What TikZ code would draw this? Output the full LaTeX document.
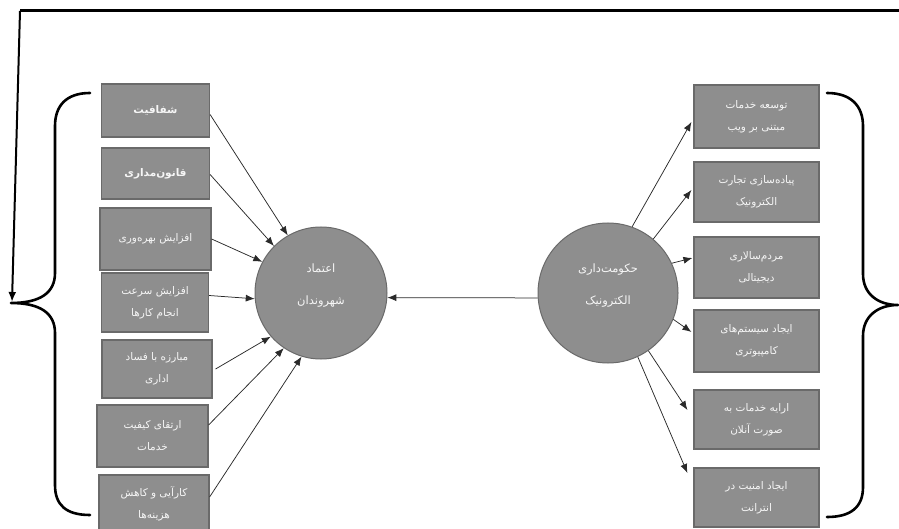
\documentclass[tikz,border=0pt]{standalone}
\usepackage{fontspec}
\TeXXeTstate=1
\newfontfamily\arabicfont[Script=Arabic]{DejaVu Sans}
\usetikzlibrary{arrows.meta,calc}
\definecolor{boxfill}{HTML}{8E8E8E}
\definecolor{boxline}{HTML}{6A6A6A}
\definecolor{boxtext}{HTML}{F6F6F6}
\definecolor{arrowcol}{HTML}{2A2A2A}
\newcommand{\pfa}[1]{\beginR #1\endR}
\begin{document}
\begin{tikzpicture}[x=1pt,y=-1pt,
 factor/.style={draw=boxline, line width=1.2pt, fill=boxfill, text=boxtext, inner sep=0pt, align=center, font=\arabicfont\fontsize{10.5}{22}\selectfont},
 hub/.style={circle, draw=boxline, line width=1pt, fill=boxfill, inner sep=0pt},
 hubtext/.style={text=boxtext, align=center, yshift=7pt, font=\arabicfont\fontsize{11.5}{32}\selectfont},
 link/.style={draw=arrowcol, line width=0.75pt, -{Latex[length=9pt,width=7pt]}},
 brace/.style={draw=black, line width=2.6pt, line cap=round, line join=round},
]
\useasboundingbox (0,0) rectangle (899,529);

% left factor boxes
\node[factor, minimum width=108pt, minimum height=53pt] (L1) at (155.5,110.5) {\bfseries\pfa{شفافیت}};
\node[factor, minimum width=108pt, minimum height=51pt] (L2) at (155.5,173.5) {\bfseries\pfa{قانون‌مداری}};
\node[factor, minimum width=111pt, minimum height=62pt] (L3) at (155.5,239) {\pfa{افزایش بهره‌وری}};
\node[factor, minimum width=107pt, minimum height=59pt] (L4) at (155,302.5) {\pfa{افزایش سرعت}\\\pfa{انجام کارها}};
\node[factor, minimum width=110pt, minimum height=58pt] (L5) at (157,369) {\pfa{مبارزه با فساد}\\\pfa{اداری}};
\node[factor, minimum width=111pt, minimum height=62pt] (L6) at (152.5,436) {\pfa{ارتقای کیفیت}\\\pfa{خدمات}};
\node[factor, minimum width=110pt, minimum height=58pt] (L7) at (154,504) {\pfa{کارآیی و کاهش}\\\pfa{هزینه‌ها}};

% right factor boxes
\node[factor, minimum width=125pt, minimum height=63pt] (R1) at (756.5,116.5) {\pfa{توسعه خدمات}\\\pfa{مبتنی بر ویب}};
\node[factor, minimum width=125pt, minimum height=60pt] (R2) at (756.5,192) {\pfa{پیاده‌سازی تجارت}\\\pfa{الکترونیک}};
\node[factor, minimum width=125pt, minimum height=61pt] (R3) at (756.5,267.5) {\pfa{مردم‌سالاری}\\\pfa{دیجیتالی}};
\node[factor, minimum width=125pt, minimum height=62pt] (R4) at (756.5,341) {\pfa{ایجاد سیستم‌های}\\\pfa{کامپیوتری}};
\node[factor, minimum width=125pt, minimum height=59pt] (R5) at (756.5,419.5) {\pfa{ارایه خدمات به}\\\pfa{صورت آنلان}};
\node[factor, minimum width=125pt, minimum height=59pt] (R6) at (756.5,497.5) {\pfa{ایجاد امنیت در}\\\pfa{انترانت}};

% hubs
\node[hub, minimum size=132pt, label={[hubtext]center:{\pfa{اعتماد}\\\pfa{شهروندان}}}] (lc) at (321,293) {};
\node[hub, minimum size=140pt, label={[hubtext]center:{\pfa{حکومت‌داری}\\\pfa{الکترونیک}}}] (rc) at (608,293) {};

% arrows into the left hub
\draw[link] ($(L1.east)+(0,4)$) -- (lc.120);
\draw[link] ($(L2.east)+(0,1)$) -- (lc.135);
\draw[link] (L3.east) -- (lc.152);
\draw[link] ($(L4.east)+(0,-7)$) -- (lc.185);
\draw[link] ($(L5.east)+(3,0)$) -- (lc.221);
\draw[link] ($(L6.east)+(0,-11)$) -- (lc.236);
\draw[link] ($(L7.east)+(0,-7)$) -- (lc.253);

% arrows out of the right hub
\draw[link] (rc.70) -- ($(R1.west)+(-2,5.5)$);
\draw[link] (rc.50) -- ($(R2.west)+(-2,-2)$);
\draw[link] (rc.25) -- ($(R3.west)+(-1,-9.5)$);
\draw[link] (rc.338) -- ($(R4.west)+(-2,-9)$);
\draw[link] (rc.305) -- ($(R5.west)+(-6,-9.5)$);
\draw[link] (rc.295) -- ($(R6.west)+(-6,-24.5)$);

% hub to hub
\draw[link] (rc.184) -- (lc.356);

% braces
\coordinate (lbTip) at (11,303);
\coordinate (rbTip) at (898,305);
\draw[brace] (90,93) .. controls (66,93) and (55,106) .. (55,126) -- (55,273)
  .. controls (55,293) and (40,303) .. (lbTip)
  .. controls (40,303) and (55,313) .. (55,333) -- (55,485)
  .. controls (55,505) and (66,515) .. (90,515);
\draw[brace] (827,93) .. controls (851,93) and (863,106) .. (863,126) -- (863,274)
  .. controls (863,294) and (878,305) .. (rbTip)
  .. controls (878,305) and (863,316) .. (863,336) -- (863,487)
  .. controls (863,507) and (851,517) .. (827,517);

% feedback connector
\coordinate (fbR) at (899,11);
\coordinate (fbC) at (20,11);
\draw[line width=3pt] (fbR) -- (fbC);
\draw[line width=2pt, -{Latex[length=10pt,width=8pt]}] (fbC) -- ($(lbTip)+(1,-1)$);
\end{tikzpicture}
\end{document}
